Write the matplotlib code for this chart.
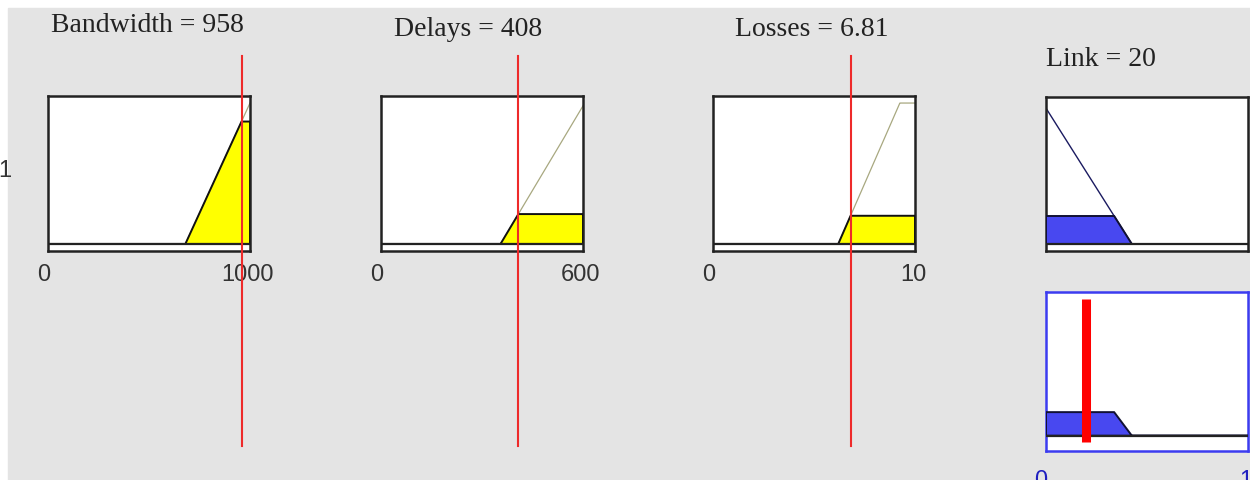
import matplotlib

matplotlib.use("Agg")
import matplotlib.pyplot as plt
import numpy as np
from matplotlib.patches import Rectangle

# inputs: name, range, current value, trapezoid mf (a, b, c, d)
in_names = ["Bandwidth", "Delays", "Losses"]
in_labels = ["958", "408", "6.81"]
in_values = [958.0, 408.0, 6.81]
in_ranges = [(0, 1000), (0, 600), (0, 10)]
in_tick_labels = [("0", "1000"), ("0", "600"), ("0", "10")]
in_mfs = [(680, 1000, 1000, 1000), (355, 605, 605, 605), (6.2, 9.25, 10, 10)]

out_name = "Link"
out_value = 20.0
out_label = "20"
out_range = (0, 100)
out_tick_labels = ("0", "100")
out_mf = (-10.0, -1.3, -1.3, 42.5)

BG = "#e4e4e4"
W, H = 1250, 481


def trap(x, p):
    a, b, c, d = p
    x = np.asarray(x, dtype=float)
    up = np.where(b > a, (x - a) / max(b - a, 1e-9), 1.0)
    dn = np.where(d > c, (d - x) / max(d - c, 1e-9), 1.0)
    y = np.minimum(np.minimum(up, 1.0), dn)
    y = np.where((x < a) | (x > d), 0.0, y)
    return np.clip(y, 0, 1)


def fax(fig, x0, y0, x1, y1):
    # pixel box (top-left origin) -> axes
    return fig.add_axes([x0 / W, 1 - y1 / H, (x1 - x0) / W, (y1 - y0) / H])


def style(ax, color="#222222"):
    ax.set_xticks([])
    ax.set_yticks([])
    ax.set_facecolor("white")
    for s in ax.spines.values():
        s.set_color(color)
        s.set_linewidth(1.8)


def ticklabels(ax, labels, y, color="#333333", dx=(-0.02, 0.99), ha=("center", "center")):
    for xx, lab, h in zip(dx, labels, ha):
        ax.text(xx, y, lab, transform=ax.transAxes, ha=h, va="center",
                fontsize=17, family="Liberation Sans", color=color, clip_on=False)


fig = plt.figure(figsize=(W / 100, H / 100), dpi=100, facecolor="white")
fig.patches.append(Rectangle((8 / W, 0), 1, 1 - 9 / H, transform=fig.transFigure,
                             color=BG, zorder=-10))

boxes = [(48, 97, 250, 252), (381, 97, 583, 252), (713, 97, 915, 252)]
title_pos = [(147, 25), (468, 30), (812, 30)]
firing = []
for i in range(3):
    ax = fax(fig, *boxes[i])
    style(ax)
    lo, hi = in_ranges[i]
    ax.set_xlim(lo, hi)
    ax.set_ylim(-0.05, 1.05)
    x = np.linspace(lo, hi, 600)
    mu = trap(x, in_mfs[i])
    clip = float(trap(in_values[i], in_mfs[i]))
    firing.append(clip)
    ax.plot(x, mu, color="#a8a880", lw=0.9, zorder=2)
    yc = np.minimum(mu, clip)
    ax.fill(np.r_[x, hi, lo], np.r_[yc, 0, 0], facecolor="#ffff00",
            edgecolor="#111111", lw=1.4, zorder=3)
    ax.axhline(0, color="#222222", lw=1.6, zorder=4)
    ax.axvline(in_values[i], ymin=-1.258, ymax=1.258, color="#ee2a2a", lw=1.5,
               clip_on=False, zorder=5)
    ticklabels(ax, in_tick_labels[i], -0.148)
    tx, ty = title_pos[i]
    fig.text(tx / W, 1 - ty / H, f"{in_names[i]} = {in_labels[i]}", ha="center",
             va="center", fontsize=20, family="Liberation Serif", color="#222222")

fig.text(5 / W, 1 - 171 / H, "1", ha="center", va="center", fontsize=17,
         family="Liberation Sans", color="#333333")

# rule consequent
strength = min(firing)
lo, hi = out_range
xo = np.linspace(lo, hi, 600)
muo = trap(xo, out_mf)
yo = np.minimum(muo, strength)

ax = fax(fig, 1046, 98, 1248, 252)
style(ax)
ax.set_xlim(lo, hi)
ax.set_ylim(-0.05, 1.05)
ax.plot(xo, muo, color="#1a1a60", lw=1.0, zorder=2)
ax.fill(np.r_[xo, hi, lo], np.r_[yo, 0, 0], facecolor="#4848f0",
        edgecolor="#111133", lw=1.4, zorder=3)
ax.axhline(0, color="#222222", lw=1.6, zorder=4)
fig.text(1101 / W, 1 - 60 / H, f"{out_name} = {out_label}", ha="center",
         va="center", fontsize=20, family="Liberation Serif", color="#222222")

# aggregated output
ax = fax(fig, 1046, 293, 1248, 452)
style(ax, color="#3c3cf0")
ax.set_xlim(lo, hi)
ax.set_ylim(-0.13, 1.22)
ax.fill(np.r_[xo, hi, lo], np.r_[yo, 0, 0], facecolor="#4848f0",
        edgecolor="#111133", lw=1.4, zorder=3)
ax.axhline(0, color="#222222", lw=1.6, zorder=4)
ax.axvline(out_value, ymin=0.057, ymax=0.956, color="#ff0000", lw=6.5,
           solid_capstyle="butt", zorder=5)
ticklabels(ax, out_tick_labels, -0.182, color="#2020c0", dx=(-0.025, 0.955),
           ha=("center", "left"))

fig.savefig("out.png", dpi=100, facecolor=fig.get_facecolor())
